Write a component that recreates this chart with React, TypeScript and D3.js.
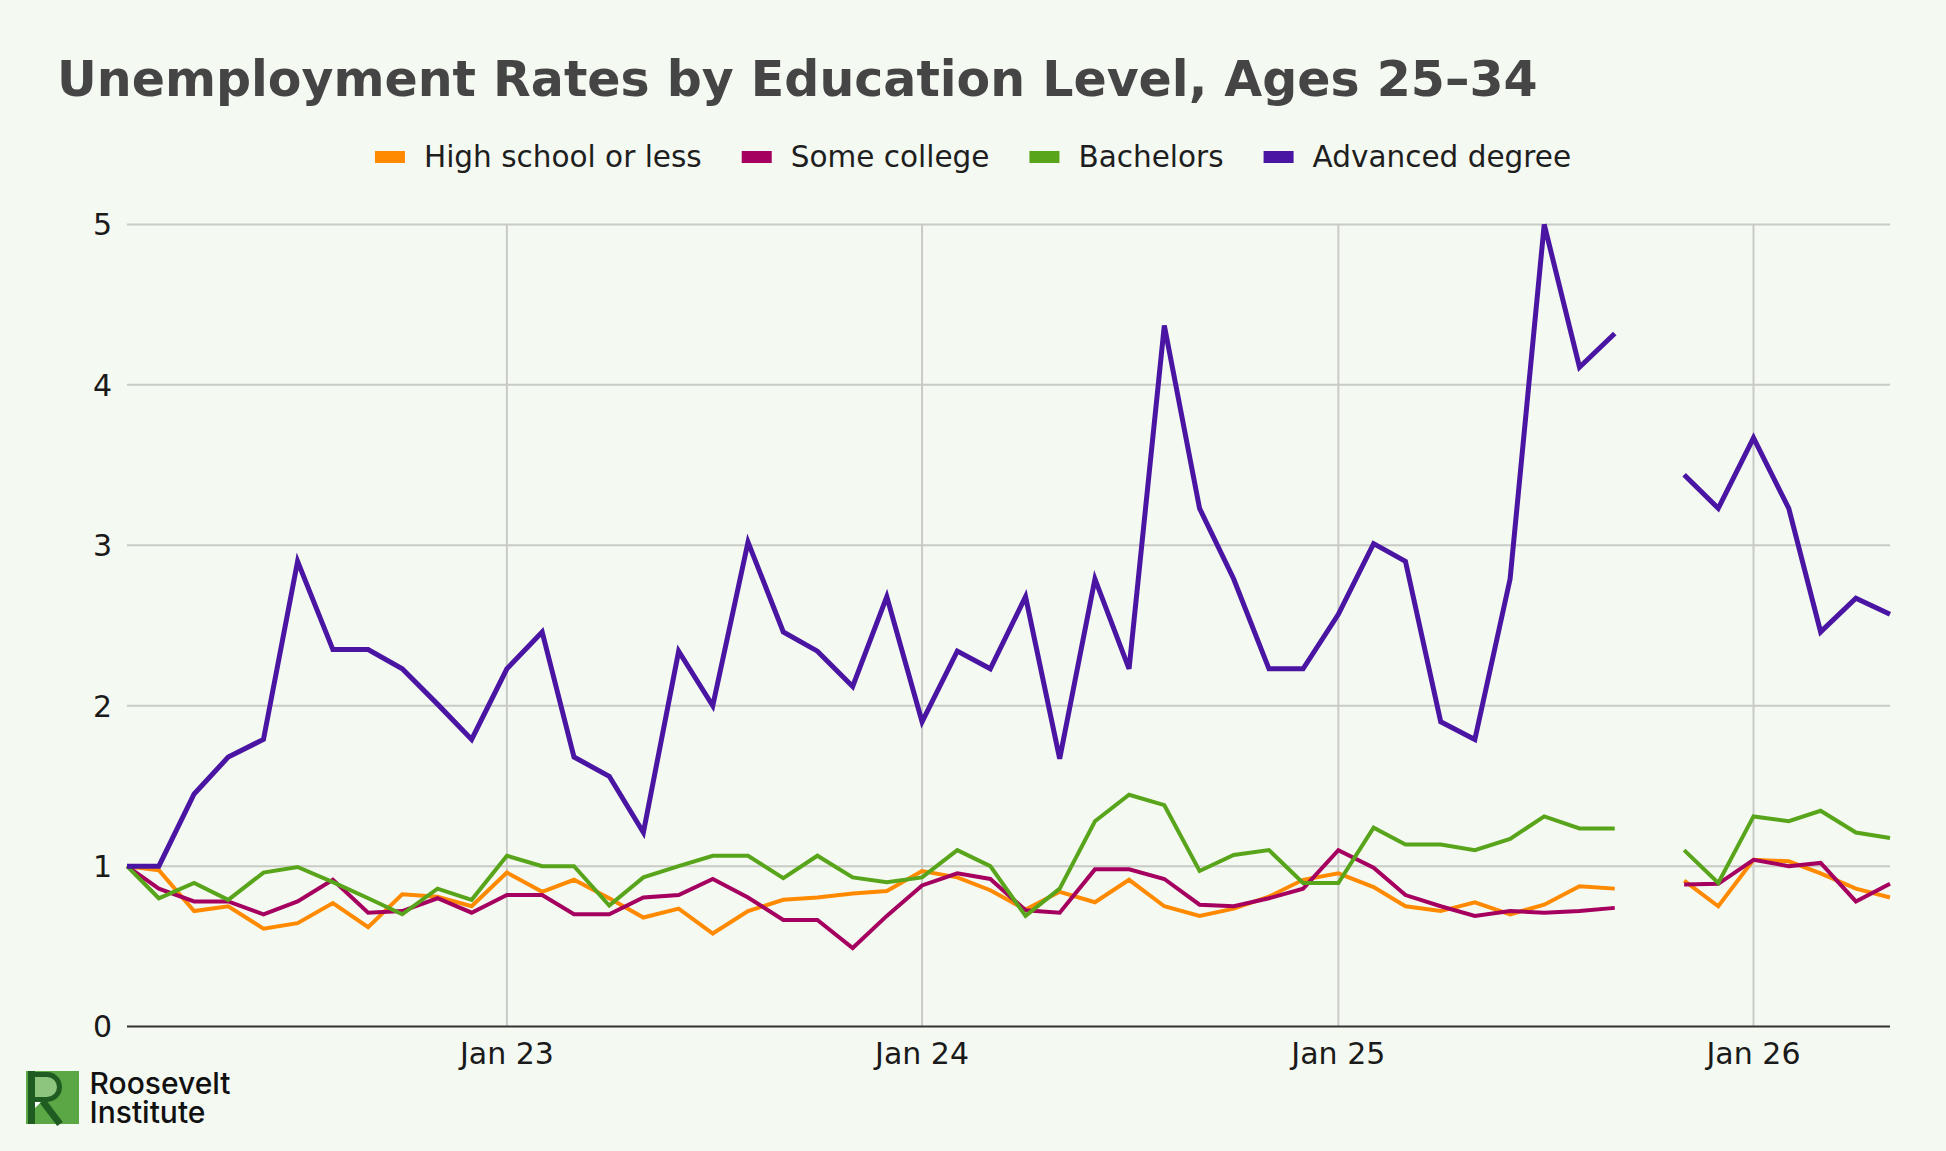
import React, { useMemo } from "react";
import * as d3 from "d3";

// Monthly observations, Feb 2022 – May 2026 (Oct 2025 was not published)
const months = [
  "2022-02", "2022-03", "2022-04", "2022-05", "2022-06", "2022-07", "2022-08", "2022-09", "2022-10", "2022-11", "2022-12",
  "2023-01", "2023-02", "2023-03", "2023-04", "2023-05", "2023-06", "2023-07", "2023-08", "2023-09", "2023-10", "2023-11", "2023-12",
  "2024-01", "2024-02", "2024-03", "2024-04", "2024-05", "2024-06", "2024-07", "2024-08", "2024-09", "2024-10", "2024-11", "2024-12",
  "2025-01", "2025-02", "2025-03", "2025-04", "2025-05", "2025-06", "2025-07", "2025-08", "2025-09", "2025-10", "2025-11", "2025-12",
  "2026-01", "2026-02", "2026-03", "2026-04", "2026-05",
];

const highSchoolOrLess: (number | null)[] = [
  1.0, 0.975, 0.72, 0.75, 0.61, 0.645, 0.77, 0.62, 0.825, 0.81, 0.75,
  0.96, 0.84, 0.915, 0.8, 0.68, 0.735, 0.58, 0.72, 0.79, 0.805, 0.83, 0.845,
  0.97, 0.93, 0.85, 0.73, 0.84, 0.775, 0.915, 0.75, 0.69, 0.735, 0.81, 0.915,
  0.955, 0.87, 0.75, 0.72, 0.775, 0.7, 0.76, 0.875, 0.86, null, 0.91, 0.75,
  1.04, 1.03, 0.955, 0.86, 0.805,
];

const someCollege: (number | null)[] = [
  1.0, 0.86, 0.78, 0.78, 0.7, 0.78, 0.915, 0.71, 0.72, 0.8, 0.71,
  0.82, 0.82, 0.7, 0.7, 0.805, 0.82, 0.92, 0.805, 0.665, 0.665, 0.49, 0.69,
  0.88, 0.955, 0.92, 0.725, 0.71, 0.98, 0.98, 0.92, 0.76, 0.75, 0.8, 0.86,
  1.1, 0.99, 0.82, 0.75, 0.69, 0.72, 0.71, 0.72, 0.74, null, 0.885, 0.89,
  1.04, 1.0, 1.02, 0.78, 0.89,
];

const bachelors: (number | null)[] = [
  1.0, 0.8, 0.895, 0.79, 0.96, 0.995, 0.9, 0.8, 0.7, 0.86, 0.79,
  1.065, 1.0, 1.0, 0.755, 0.93, 1.0, 1.065, 1.065, 0.925, 1.065, 0.93, 0.9,
  0.93, 1.1, 1.0, 0.69, 0.86, 1.28, 1.445, 1.38, 0.97, 1.07, 1.1, 0.895,
  0.895, 1.24, 1.135, 1.135, 1.1, 1.17, 1.31, 1.235, 1.235, null, 1.1, 0.895,
  1.31, 1.28, 1.345, 1.21, 1.175,
];

const advancedDegree: (number | null)[] = [
  1.0, 1.0, 1.45, 1.68, 1.79, 2.9, 2.35, 2.35, 2.23, 2.01, 1.79,
  2.23, 2.46, 1.68, 1.56, 1.21, 2.34, 2.0, 3.02, 2.46, 2.34, 2.12, 2.68,
  1.9, 2.34, 2.23, 2.68, 1.67, 2.79, 2.23, 4.37, 3.23, 2.79, 2.23, 2.23,
  2.57, 3.01, 2.9, 1.9, 1.79, 2.79, 5.0, 4.11, 4.32, null, 3.44, 3.23,
  3.67, 3.23, 2.46, 2.67, 2.57,
];

const seriesNames = ["High school or less", "Some college", "Bachelors", "Advanced degree"];
const seriesValues = [highSchoolOrLess, someCollege, bachelors, advancedDegree];
const seriesColors = ["#ff8a00", "#a5005f", "#58a51b", "#4a15a3"];
const seriesWidths = [4, 4, 4, 5];

const yTicks = [0, 1, 2, 3, 4, 5];
const xTickMonths = ["2023-01", "2024-01", "2025-01", "2026-01"];

const TITLE = "Unemployment Rates by Education Level, Ages 25\u201334";

const W = 1946;
const H = 1151;
const PLOT = { left: 127, right: 1890, top: 224.4, bottom: 1026.6 };
const BG = "#f4f9f1";
const FONT = "'DejaVu Sans', Verdana, sans-serif";
const TICK_FONT_SIZE = 30;
const LEGEND_FONT_SIZE = 29.5;

const parseMonth = d3.timeParse("%Y-%m");
const fmtTick = d3.timeFormat("%b %y");

function textWidth(text: string, font: string): number {
  const ctx = document.createElement("canvas").getContext("2d");
  if (!ctx) return text.length * 16;
  ctx.font = font;
  return ctx.measureText(text).width;
}

export default function App() {
  const dates = useMemo(() => months.map((m) => parseMonth(m) as Date), []);

  const x = d3
    .scaleTime()
    .domain([dates[0], dates[dates.length - 1]])
    .range([PLOT.left, PLOT.right]);
  const y = d3.scaleLinear().domain([0, 5]).range([PLOT.bottom, PLOT.top]);

  const line = d3
    .line<[Date, number | null]>()
    .defined((d) => d[1] != null)
    .x((d) => x(d[0]))
    .y((d) => y(d[1] as number));

  // Legend: swatch + label, centred across the page
  const legend = useMemo(() => {
    const sw = 30;
    const swGap = 19;
    const itemGap = 40;
    const widths = seriesNames.map((n) => textWidth(n, `${LEGEND_FONT_SIZE}px 'DejaVu Sans'`));
    const total =
      widths.reduce((a, b) => a + b, 0) + seriesNames.length * (sw + swGap) + (seriesNames.length - 1) * itemGap;
    let cx = W / 2 - total / 2;
    return seriesNames.map((name, i) => {
      const item = { name, color: seriesColors[i], x: cx, sw, swGap };
      cx += sw + swGap + widths[i] + itemGap;
      return item;
    });
  }, []);

  const xTicks = xTickMonths.map((m) => parseMonth(m) as Date);

  return (
    <svg
      width={W}
      height={H}
      viewBox={`0 0 ${W} ${H}`}
      style={{ position: "absolute", left: 0, top: 0, display: "block", background: BG }}
    >
      <rect x={0} y={0} width={W} height={H} fill={BG} />

      <text x={57} y={96} fontFamily={FONT} fontWeight={700} fontSize={49} fill="#454545">
        {TITLE}
      </text>

      <g>
        {legend.map((it) => (
          <g key={it.name}>
            <rect x={it.x} y={151} width={it.sw} height={12} fill={it.color} />
            <text
              x={it.x + it.sw + it.swGap}
              y={166.5}
              fontFamily={FONT}
              fontSize={LEGEND_FONT_SIZE}
              fill="#1e1e1e"
            >
              {it.name}
            </text>
          </g>
        ))}
      </g>

      {/* horizontal gridlines */}
      <g>
        {yTicks
          .filter((t) => t > 0)
          .map((t) => (
            <line key={t} x1={PLOT.left} x2={PLOT.right} y1={y(t)} y2={y(t)} stroke="#c9cbc7" strokeWidth={2} />
          ))}
      </g>

      {/* vertical gridlines at each January */}
      <g>
        {xTicks.map((d) => (
          <line key={+d} x1={x(d)} x2={x(d)} y1={PLOT.top} y2={PLOT.bottom} stroke="#c9cbc7" strokeWidth={2} />
        ))}
      </g>

      {/* y tick labels */}
      <g>
        {yTicks.map((t) => (
          <text
            key={t}
            x={112}
            y={y(t)}
            dy="0.36em"
            textAnchor="end"
            fontFamily={FONT}
            fontSize={TICK_FONT_SIZE}
            fill="#1a1a1a"
          >
            {t}
          </text>
        ))}
      </g>

      {/* x tick labels */}
      <g>
        {xTicks.map((d) => (
          <text
            key={+d}
            x={x(d)}
            y={1064}
            textAnchor="middle"
            fontFamily={FONT}
            fontSize={TICK_FONT_SIZE}
            fill="#1a1a1a"
          >
            {fmtTick(d)}
          </text>
        ))}
      </g>

      {/* zero baseline */}
      <line x1={PLOT.left} x2={PLOT.right} y1={y(0)} y2={y(0)} stroke="#333" strokeWidth={2} />

      {/* series lines */}
      <g fill="none">
        {seriesValues.map((vals, i) => (
          <path
            key={seriesNames[i]}
            d={line(dates.map((d, j) => [d, vals[j]] as [Date, number | null])) || ""}
            stroke={seriesColors[i]}
            strokeWidth={seriesWidths[i]}
          />
        ))}
      </g>

      {/* Roosevelt Institute mark */}
      <g transform="translate(26,1071)">
        <rect x={0} y={0} width={53} height={53} fill="#5ba746" />
        <path d="M9,4 H21 A12,12 0 0 1 21,28 H9 Z" fill="#8ec57e" />
        <rect x={2} y={0} width={7} height={53} fill="#1f5c22" />
        <path d="M5,3.5 H21 A12.5,12.5 0 0 1 21,28.5 H5" fill="none" stroke="#1f5c22" strokeWidth={5} />
        <path d="M15,28 L34,53" fill="none" stroke="#1f5c22" strokeWidth={7} />
        <path d="M9,31 L15,31 L9,37 Z" fill="#ffffff" />
        <text fontFamily="Inter, 'Noto Sans', sans-serif" fontWeight={500} fontSize={30} fill="#111">
          <tspan x={63.5} y={23}>
            Roosevelt
          </tspan>
          <tspan x={63.5} y={51.5}>
            Institute
          </tspan>
        </text>
      </g>
    </svg>
  );
}
